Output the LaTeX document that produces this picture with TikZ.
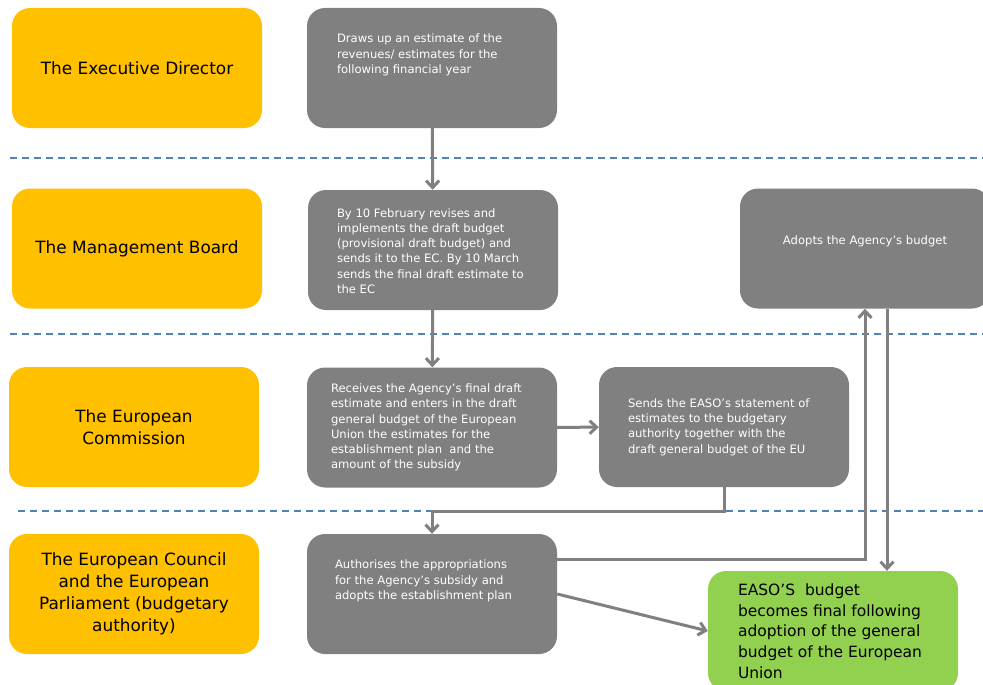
\documentclass[tikz,border=0pt]{standalone}
\usepackage{fontspec}
\setmainfont{DejaVu Sans}
\usetikzlibrary{arrows.meta}

\definecolor{roleyellow}{RGB}{255,192,0}
\definecolor{taskgray}{RGB}{128,128,128}
\definecolor{budgetgreen}{RGB}{146,208,80}
\definecolor{laneblue}{RGB}{79,129,189}

\begin{document}
\begin{tikzpicture}[
  x=1pt, y=-1pt,
  role/.style={fill=roleyellow, rounded corners=18pt, minimum width=250pt, minimum height=120pt,
    align=center, inner sep=0pt, font=\fontsize{16.9}{21.8}\selectfont},
  task/.style={fill=taskgray, rounded corners=18pt, minimum width=250pt, minimum height=120pt},
  budgetbox/.style={fill=budgetgreen, rounded corners=18pt, minimum width=250pt, minimum height=120pt},
  tasktext/.style={anchor=west, align=left, text=white, inner sep=0pt, font=\fontsize{11.6}{15.3}\selectfont},
  budgettext/.style={anchor=west, align=left, inner sep=0pt, font=\fontsize{15.5}{20.7}\selectfont},
  lane/.style={draw=laneblue, line width=2pt, dash pattern=on 7pt off 5pt},
  flow/.style={draw=taskgray, line width=3pt, -{Straight Barb[length=7pt,width=13pt]}},
]
  \useasboundingbox (0,0) rectangle (983,685);

  % swim lanes
  \draw[lane] (10,158) -- (983,158);
  \draw[lane] (10,334) -- (983,334);
  \draw[lane] (18,511) -- (983,511);

  % actors
  \node[role] (director) at (137,68) {The Executive Director};
  \node[role] (board) at (137,248.5) {The Management Board};
  \node[role] (commission) at (134,427) {The European\\Commission};
  \node[role] (council) at (134,594) {The European Council\\and the European\\Parliament (budgetary\\authority)};

  % steps
  \node[task] (draft) at (432,68) {};
  \node[tasktext] (draft-t) at ([xshift=30pt,yshift=13pt]draft.west)
    {Draws up an estimate of the\\revenues/ estimates for the\\following financial year};

  \node[task] (revise) at (433,250) {};
  \node[tasktext] (revise-t) at ([xshift=29pt,yshift=-1pt]revise.west)
    {By 10 February revises and\\implements the draft budget\\(provisional draft budget) and\\sends it to the EC. By 10 March\\sends the final draft estimate to\\the EC};

  \node[task] (receive) at (432,427.5) {};
  \node[tasktext] (receive-t) at ([xshift=24pt]receive.west)
    {Receives the Agency’s final draft\\estimate and enters in the draft\\general budget of the European\\Union the estimates for the\\establishment plan~ and the\\amount of the subsidy};

  \node[task] (sends) at (724,427) {};
  \node[tasktext] (sends-t) at ([xshift=29pt]sends.west)
    {Sends the EASO’s statement of\\estimates to the budgetary\\authority together with the\\draft general budget of the EU};

  \node[task] (adopt) at (865,248.5) {};
  \node[tasktext, anchor=center] (adopt-t) at ([yshift=7pt]adopt.center) {Adopts the Agency’s budget};

  \node[task] (authorise) at (432,594) {};
  \node[tasktext] (authorise-t) at ([xshift=28pt,yshift=13pt]authorise.west)
    {Authorises the appropriations\\for the Agency’s subsidy and\\adopts the establishment plan};

  \node[budgetbox] (final) at (833,631) {};
  \node[budgettext] (final-t) at ([xshift=30pt]final.west)
    {EASO’S~ budget\\becomes final following\\adoption of the general\\budget of the European\\Union};

  % flow
  \draw[flow] (draft) -- (revise);
  \draw[flow] (revise) -- (receive);
  \draw[flow] (receive) -- (sends);
  \draw[flow] (sends.south) -- (sends.south |- 0,511) -| (authorise.north);
  \draw[flow] ([yshift=35pt]authorise.east) -| (adopt.south);
  \draw[flow] ([xshift=22pt]adopt.south) -- ([xshift=22pt]adopt.south |- final.north);
  \draw[flow] (authorise.east) -- (final.west);
\end{tikzpicture}
\end{document}
